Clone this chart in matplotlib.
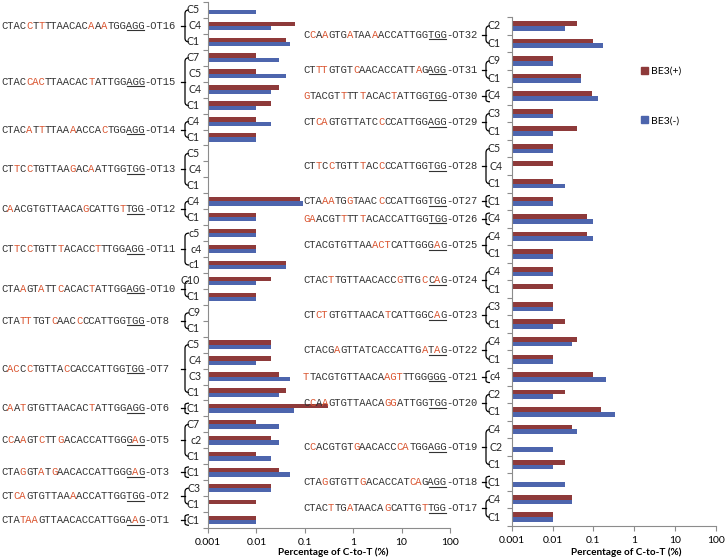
# Off-target C-to-T editing, BE3(+) vs BE3(-)
import itertools
import numpy as np
import matplotlib
matplotlib.use('Agg')
import matplotlib.pyplot as plt
import matplotlib.transforms as mtransforms
from matplotlib.path import Path
from matplotlib.patches import PathPatch, Patch
from matplotlib.font_manager import FontProperties

nan = np.nan

# left panel (top to bottom); lowercase letters = mismatches drawn in red
left_ot = ['OT16', 'OT15', 'OT14', 'OT13', 'OT12', 'OT11', 'OT10', 'OT8',
           'OT7', 'OT6', 'OT5', 'OT3', 'OT2', 'OT1']
left_seq = ['CTACcTtTTAACACaAaTGGAGG', 'CTACcacTTAACACtATTGGAGG',
            'CTACaTtTTAAaACCAcTGGAGG', 'CTtCcTGTTAAgACaATTGGTGG',
            'CaACGTGTTAACAgCATTGtTGG', 'CTtCcTGTTtACACCtTTGGAGG',
            'CTAaGTaTTcACACtATTGGAGG', 'CTAttTGTcAACcCCATTGGTGG',
            'CacCcTGTTAcCACCATTGGTGG', 'CaAtGTGTTAACACtATTGGAGG',
            'CcAaGTcTTgACACCATTGGGaG', 'CTAgGTaTgAACACCATTGGGaG',
            'CTcaGTGTTAAaACCATTGGTGG', 'CTAtaaGTTAACACCATTGGAaG']
left_sites = [['C5', 'C4', 'C1'], ['C7', 'C5', 'C4', 'C1'], ['C4', 'C1'],
              ['C5', 'C4', 'C1'], ['C4', 'C1'], ['c5', 'c4', 'c1'],
              ['C10', 'C1'], ['C9', 'C1'], ['C5', 'C4', 'C3', 'C1'], ['C1'],
              ['C7', 'c2', 'C1'], ['C1'], ['C3', 'C1'], ['C1']]
left_plus = [[nan, 0.063, 0.04], [0.01, 0.01, 0.03, 0.02], [0.01, 0.01],
             [nan, nan, nan], [0.08, 0.01], [0.01, 0.01, 0.04],
             [0.02, 0.01], [nan, nan], [0.02, 0.02, 0.03, 0.04], [0.3],
             [0.01, 0.02, 0.01], [0.03], [0.02, 0.01], [0.01]]
left_minus = [[0.01, 0.02, 0.05], [0.03, 0.04, 0.02, 0.01], [0.02, 0.01],
              [nan, nan, nan], [0.09, 0.01], [0.01, 0.01, 0.04],
              [0.01, 0.01], [nan, nan], [0.02, 0.01, 0.05, 0.03], [0.06],
              [0.03, 0.03, 0.02], [0.05], [0.02, nan], [0.01]]

# right panel
right_ot = ['OT32', 'OT31', 'OT30', 'OT29', 'OT28', 'OT27', 'OT26', 'OT25',
            'OT24', 'OT23', 'OT22', 'OT21', 'OT20', 'OT19', 'OT18', 'OT17']
right_seq = ['CcAaGTGaTAAaACCATTGGTGG', 'CTttGTGTcAACACCATTaGAGG',
             'gTACGTtTTtACACtATTGGTGG', 'CTcaGTGTTATCcCCATTGGAGG',
             'CTtCcTGTTtACcCCATTGGTGG', 'CTAaaTGgTAACcCCATTGGTGG',
             'gaACGTtTTtACACCATTGGTGG', 'CTACGTGTTAAactCATTGGGaG',
             'CTACtTGTTAACACCgTTGcCaG', 'CTctGTGTTAACAtCATTGGCaG',
             'CTACGaGTTATCACCATTGaTaG', 'tTACGTGTTAACAagtTTGGGGG',
             'CcAaGTGTTAACAggATTGGTGG', 'CcACGTGTgAACACCcaTGGAGG',
             'CTAgGTGTTgACACCATcaGAGG', 'CTACtTGaTAACAgCATTGtTGG']
right_sites = [['C2', 'C1'], ['C9', 'C1'], ['C4'], ['C3', 'C1'],
               ['C5', 'C4', 'C1'], ['C1'], ['C4'], ['C4', 'C1'], ['C4', 'C1'],
               ['C3', 'C1'], ['C4', 'C1'], ['c4'], ['C2', 'C1'],
               ['C4', 'C2', 'C1'], ['C1'], ['C4', 'C1']]
right_plus = [[0.04, 0.1], [0.01, 0.05], [0.09], [0.01, 0.04],
              [0.01, 0.01, 0.01], [0.01], [0.07], [0.07, 0.01], [0.01, 0.01],
              [0.01, 0.02], [0.04, 0.01], [0.1], [0.02, 0.15],
              [0.03, nan, 0.02], [nan], [0.03, 0.01]]
right_minus = [[0.02, 0.17], [0.01, 0.05], [0.13], [0.01, 0.01],
               [0.01, nan, 0.02], [0.01], [0.1], [0.1, 0.01], [0.01, nan],
               [0.01, 0.01], [0.03, 0.01], [0.2], [0.01, 0.34],
               [0.04, 0.01, 0.01], [0.02], [0.03, 0.01]]

RED = '#8E3A3A'
BLUE = '#4D65AD'
SEQ_RED = '#DA5530'
SEQ_GRAY = '#333333'
W, H = 726, 558
FS = 7.6

fig = plt.figure(figsize=(W / 100, H / 100), dpi=100)
ax1 = fig.add_axes([208 / W, 1 - 528 / H, 242 / W, 526 / H])
ax2 = fig.add_axes([511.7 / W, 1 - 526 / H, 204.3 / W, 509 / H])

# letter advance and left bearings, as the renderer lays the mono font out
renderer = fig.canvas.get_renderer()
mono = FontProperties(family='Liberation Mono', size=FS)


def text_w(s):
    return renderer.get_text_width_height_descent(s, mono, False)[0]


CW = (text_w('C' * 101) - text_w('C')) / 100
LSB = {c: text_w(' ' + c) - CW - text_w(c) for c in 'ACGT-'}


def seq_label(ax, trans, x, y, seq, ot):
    # runs of same-colour letters, each put on its own pen position
    runs = [(''.join(r).upper(), red) for red, r in itertools.groupby(seq, key=str.islower)]
    runs.append(('-' + ot, False))
    pos = 0
    for run, red in runs:
        ax.text((x + pos * CW + LSB[run[0]]) / W, y, run, fontproperties=mono,
                color=SEQ_RED if red else SEQ_GRAY, ha='left', va='center',
                transform=trans)
        pos += len(run)
    under = mtransforms.offset_copy(trans, fig=fig, x=0, y=-4.5, units='dots')
    x0 = x + 20 * CW + 0.6
    x1 = x + 23 * CW - 0.6
    ax.plot([x0 / W, x1 / W], [y, y], transform=under, color=SEQ_GRAY,
            lw=0.8, clip_on=False)


def draw_panel(ax, ots, seqs, sites, plus, minus, seq_x, brk_x, site_x, lab_x, lab_y):
    cats = [s for g in sites for s in g]
    n = len(cats)
    y = np.arange(n)
    vp = np.array([v for g in plus for v in g])
    vm = np.array([v for g in minus for v in g])
    h = 0.27
    m = ~np.isnan(vp)
    ax.barh(y[m] - h / 2, vp[m] - 0.001, left=0.001, height=h, color=RED)
    m = ~np.isnan(vm)
    ax.barh(y[m] + h / 2, vm[m] - 0.001, left=0.001, height=h, color=BLUE)

    ax.set_xscale('log')
    ax.set_xlim(0.001, 100)
    ax.set_ylim(n - 0.5, -0.5)
    ax.set_xticks([0.001, 0.01, 0.1, 1, 10, 100])
    ax.set_xticklabels(['0.001', '0.01', '0.1', '1', '10', '100'],
                       fontfamily='Lato', fontsize=7.5)
    ax.xaxis.set_minor_locator(matplotlib.ticker.NullLocator())
    ax.set_yticks(np.arange(n + 1) - 0.5)
    ax.set_yticklabels([])
    ax.tick_params(axis='both', direction='out', length=3.5, width=0.8,
                   color='#8c8c8c')
    ax.tick_params(axis='x', pad=3.5)
    for s in ['top', 'right']:
        ax.spines[s].set_visible(False)
    for s in ['left', 'bottom']:
        ax.spines[s].set_color('#8c8c8c')
        ax.spines[s].set_linewidth(0.8)
    ax.set_xlabel('Percentage of C-to-T (%)', fontfamily='Lato',
                  fontweight='bold', fontsize=7.2)
    ax.xaxis.set_label_coords(lab_x, lab_y)

    trans = mtransforms.blended_transform_factory(fig.transFigure, ax.transData)

    i = 0
    for ot, seq, grp in zip(ots, seqs, sites):
        i0, i1 = i, i + len(grp) - 1
        if i0 == i1:
            yt, yb = i0 - 0.33, i1 + 0.33
        else:
            yt, yb = i0, i1
        ym = (yt + yb) / 2
        seq_label(ax, trans, seq_x, ym, seq, ot)

        # bracket joining the sequence to its C positions
        r = 0.22 if i0 != i1 else 0.12
        bx = brk_x / W
        hw = 4 / W
        verts = [(bx + hw, yt), (bx, yt), (bx, yt + r), (bx, yb - r),
                 (bx, yb), (bx + hw, yb)]
        codes = [Path.MOVETO, Path.CURVE3, Path.CURVE3, Path.LINETO,
                 Path.CURVE3, Path.CURVE3]
        ax.add_patch(PathPatch(Path(verts, codes), transform=trans, fill=False,
                               lw=0.9, color='black', clip_on=False))
        ax.plot([bx - 4 / W, bx], [ym, ym], transform=trans, color='black',
                lw=0.9, clip_on=False)

        for k, name in enumerate(grp):
            mid = 0 < k < len(grp) - 1
            ax.text((site_x + (2 if mid else 0)) / W, i + k, name, transform=trans,
                    fontfamily='Lato', fontsize=7.6, color='#222222',
                    va='center', ha='right')
        i += len(grp)


draw_panel(ax1, left_ot, left_seq, left_sites, left_plus, left_minus,
           1, 185, 200, 0.517, -0.037)
draw_panel(ax2, right_ot, right_seq, right_sites, right_plus, right_minus,
           303, 486, 501, 0.56, -0.042)

handles = [Patch(color=RED), Patch(color=BLUE)]
fig.legend(handles, ['BE3(+)', 'BE3(-)'], loc='center left',
           bbox_to_anchor=(641 / W, 1 - 96 / H), frameon=False,
           prop={'family': 'Lato', 'size': 7.5}, handlelength=0.65,
           handleheight=0.65, handletextpad=0.35, labelspacing=3.9,
           borderpad=0, borderaxespad=0)

fig.savefig('out.png', dpi=100)
